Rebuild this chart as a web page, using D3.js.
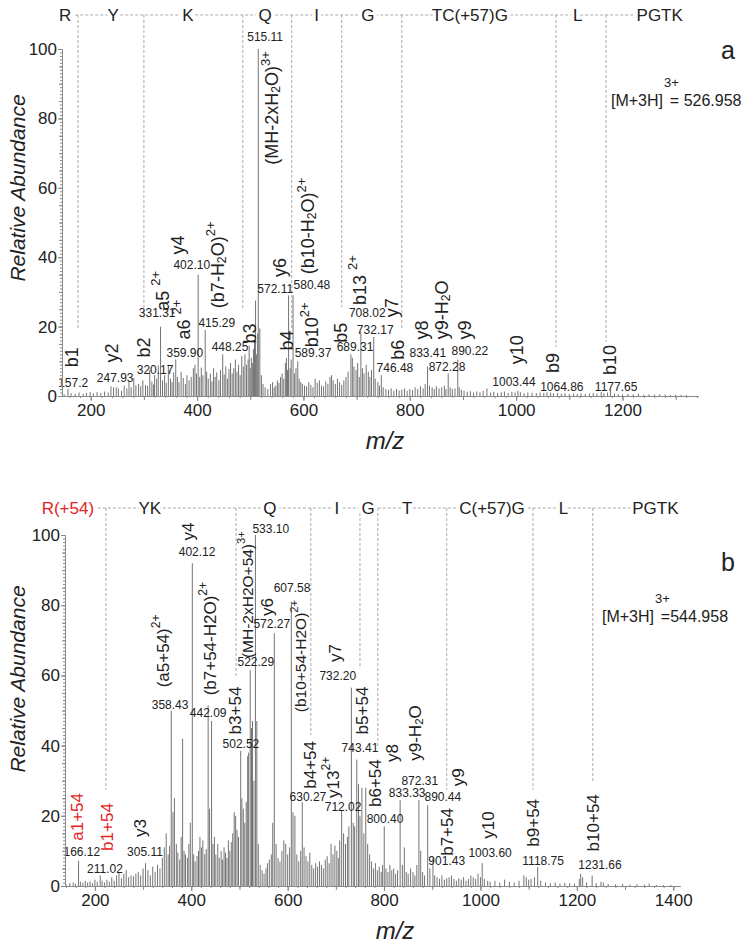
<!DOCTYPE html>
<html><head><meta charset="utf-8">
<script src="https://cdn.jsdelivr.net/npm/d3@7"></script>
<style>
body{margin:0;background:#fff}
svg text{font-family:"Liberation Sans",Arial,sans-serif}
</style>
</head><body>
<svg id="c" width="755" height="944"></svg>
<script>
// ---------------- DATA ----------------
const xTicksA = [200, 400, 600, 800, 1000, 1200];
const xTicksB = [200, 400, 600, 800, 1000, 1200, 1400];
const yTicks = [0, 20, 40, 60, 80, 100];

// sequence header: [text, m/z anchor]
const seqA = [["R",152],["Y",242],["K",383],["Q",528],["I",625],["G",721],["TC(+57)G",913],["L",1116],["PGTK",1270]];
const seqB = [["R(+54)",144],["YK",314],["Q",563],["I",702],["G",767],["T",848],["C(+57)G",1024],["L",1172],["PGTK",1363]];

// fragment (b-ion) dashed markers: [m/z, lower end in % abundance]
const fragA = [[176,19],[300,22],[486,24.8],[578,19.6],[672,25.6],[785,19],[1075,14.1],[1169,15.6]];
const fragB = [[223,27.4],[493,59.5],[648,43],[750,62],[787,39.6],[930,27.4],[1109,27.4],[1233,29.6]];

// labelled peaks: [label m/z, intensity %, label anchor m/z, label anchor %]
const labeledA = [
 ["157.2",2.0,167,3.7],["247.93",2.5,246,5.2],["320.17",6.0,321,7.5],["331.31",20,325,23.9],
 ["359.90",10.5,377,12.4],["402.10",35,390,37.8],["415.29",19,437,21],["448.25",12,462,14.1],
 ["515.11",100,528,103.5],["572.11",29,547,30.8],["580.48",29,616,32],["589.37",10,618,12.4],
 ["689.31",12,697,14.1],["708.02",18.5,720,23.9],["732.17",17,735,19],["746.48",6,772,8.1],
 ["833.41",8.5,834,12.4],["872.28",6.5,870,8.4],["890.22",10.5,913,13],["1003.44",1.5,996,4],
 ["1064.86",1.0,1086,2.6],["1177.65",1.5,1188,2.6]
];
const labeledB = [
 ["166.12",7.2,173,9.7],["211.02",3,221,4.8],["305.11",6.5,304,9.7],["358.43",50,356,51.6],
 ["402.12",92,412,95.2],["442.09",47,435,49.3],["502.52",38.5,503,40.5],["522.29",61.5,534,63.8],
 ["533.10",100,565,101.7],["572.27",72,567,74.6],["607.58",81,609,84.9],["630.27",24,642,25.4],
 ["712.02",21.5,715,22.5],["732.20",56.5,704,59.8],["743.41",36,750,39.3],["800.40",17,802,19.1],
 ["833.33",24.5,848,26.5],["872.31",24.5,874,30],["890.44",23,922,25.4],["901.43",8,930,7.1],
 ["1003.60",6.5,1020,9.4],["1118.75",5.4,1130,7.1],["1231.66",3,1248,6]
];

// unlabelled peaks: [m/z, intensity %]
const noiseA = [
 [150,0.5],[163,0.8],[171,0.6],[178,1.0],[186,0.7],[192,0.9],[199,1.2],[205,0.8],[212,1.1],[219,0.9],
 [226,1.3],[233,1.0],[238,2.8],[243,2.5],[252,2.2],[258,1.5],[263,3.0],[268,2.2],[272,4.0],[276,2.5],
 [281,5.2],[285,3.1],[290,3.5],[294,2.8],[298,4.5],[303,3.2],[307,2.9],[311,7.5],[315,4.2],[318,3.3],
 [324,5.0],[327,8.8],[335,4.5],[339,6.0],[342,3.8],[346,9.0],[350,5.0],[353,4.0],[356,6.8],[363,5.5],
 [366,4.0],[370,7.0],[374,5.2],[378,3.5],[381,6.0],[385,4.5],[389,5.5],[393,8.0],[396,9.0],[399,6.5],
 [405,5.5],[408,8.2],[411,6.0],[418,7.0],[421,5.0],[425,6.5],[428,4.2],[431,8.0],[434,5.5],[437,6.8],
 [441,4.5],[444,7.5],[451,6.2],[454,8.5],[457,5.0],[460,7.8],[463,9.5],[466,6.5],[469,8.0],[472,10.5],
 [475,7.0],[478,9.0],[481,6.0],[484,11.5],[487,8.5],[490,12.0],[493,9.0],[496,10.5],[498,14.5],[500,8.0],
 [502,11.0],[504,9.5],[506,13.5],[508,16.0],[510,27.5],[512,12.0],[514,18.0],[518,19.5],[521,6.0],[524,3.5],
 [528,2.5],[533,2.0],[538,3.5],[542,4.0],[545,2.5],[548,3.0],[551,4.5],[554,3.8],[557,5.5],[560,6.5],
 [563,5.0],[566,9.5],[568,11.0],[570,7.5],[575,8.0],[577,10.5],[583,6.5],[586,8.0],[592,5.0],[595,4.0],
 [598,3.5],[602,3.0],[606,2.8],[610,4.0],[614,3.2],[618,2.5],[622,5.0],[626,3.8],[630,4.5],[634,3.0],
 [638,2.8],[642,4.2],[646,3.5],[650,5.5],[653,6.0],[656,4.5],[660,3.5],[664,5.0],[668,4.0],[672,3.2],
 [676,4.5],[680,5.5],[684,7.0],[692,11.0],[695,8.5],[699,7.5],[702,9.5],[705,5.5],[711,8.0],[714,6.5],
 [718,9.0],[722,7.0],[725,5.5],[728,7.5],[735,5.0],[740,4.0],[743,3.0],[750,2.5],[755,2.0],[760,1.8],
 [765,2.2],[770,1.5],[775,2.0],[780,1.6],[785,1.8],[790,2.2],[795,1.5],[800,2.0],[805,1.7],[810,2.5],
 [815,2.0],[820,2.8],[825,2.2],[829,3.5],[837,3.0],[842,2.5],[846,2.0],[850,2.8],[855,2.2],[860,2.5],
 [865,3.0],[868,2.0],[876,2.5],[880,2.0],[885,2.2],[893,2.5],[897,1.8],[902,1.5],[908,1.2],[914,1.4],
 [920,1.0],[926,1.3],[932,1.1],[938,1.5],[945,2.2],[952,1.0],[958,1.2],[965,0.9],[972,1.1],[978,1.3],
 [985,0.9],[992,1.2],[998,1.0],[1008,1.1],[1015,0.8],[1022,1.0],[1030,0.9],[1038,0.8],[1045,1.0],[1052,0.9],
 [1058,1.1],[1070,0.8],[1078,0.9],[1085,0.7],[1092,0.8],[1100,0.6],[1108,0.7],[1115,0.6],[1122,0.8],[1130,0.6],
 [1138,0.7],[1145,0.9],[1152,0.7],[1160,1.2],[1165,0.8],[1172,1.0],[1185,0.7],[1192,0.6],[1200,0.5],[1210,0.6],
 [1220,0.5],[1230,0.6],[1240,0.4],[1250,0.5],[1260,0.4],[1270,0.5],[1280,0.4],[1290,0.3],[1300,0.4],[1310,0.3],[1320,0.3]
];
const noiseB = [
 [140,0.5],[148,0.8],[155,1.0],[160,0.7],[170,1.2],[175,0.9],[180,1.5],[185,1.0],[190,1.3],[195,0.8],
 [200,1.8],[205,1.2],[215,1.5],[220,1.0],[225,1.8],[230,1.2],[235,2.5],[240,1.5],[245,3.0],[250,4.0],
 [255,2.2],[260,3.5],[265,4.5],[270,2.5],[275,3.0],[280,2.8],[285,3.5],[290,4.0],[295,3.0],[300,5.0],
 [310,4.5],[315,3.0],[320,5.5],[325,4.0],[330,6.0],[335,5.0],[340,8.0],[344,11.0],[348,15.0],[352,9.0],
 [355,11.5],[362,21.0],[365,25.0],[369,12.0],[372,9.5],[376,7.5],[379,14.0],[382,42.0],[385,10.0],[388,9.0],
 [392,8.0],[395,12.0],[398,18.0],[405,9.0],[408,7.0],[412,8.5],[415,10.0],[418,14.0],[421,11.0],[424,13.0],
 [428,9.0],[431,10.5],[435,51.5],[438,22.0],[445,12.0],[448,14.0],[451,9.0],[455,12.0],[458,8.0],[462,10.0],
 [465,7.5],[468,11.0],[471,9.5],[474,8.0],[477,13.0],[480,10.0],[483,12.5],[486,15.0],[489,21.0],[492,20.0],
 [495,16.0],[498,14.0],[505,25.0],[508,22.0],[511,18.0],[514,24.0],[517,37.0],[519,38.0],[525,45.0],[527,47.0],
 [530,30.0],[536,47.0],[539,12.0],[543,6.0],[547,4.5],[551,3.5],[555,5.0],[558,6.5],[562,7.5],[566,9.0],
 [569,18.0],[576,12.0],[580,8.0],[584,7.0],[588,10.0],[592,13.0],[596,12.0],[600,9.0],[604,11.0],[611,21.0],
 [615,20.0],[619,9.0],[623,7.0],[627,10.0],[634,11.0],[638,8.5],[642,7.0],[646,9.5],[650,6.0],[654,5.0],
 [658,6.5],[662,5.5],[666,7.0],[670,6.0],[674,5.0],[678,7.5],[682,8.5],[686,6.5],[690,12.0],[694,9.0],
 [698,11.5],[702,10.0],[705,8.0],[708,13.0],[716,15.0],[720,12.0],[724,14.0],[727,17.0],[736,18.0],[739,17.0],
 [747,29.0],[750,20.0],[754,28.0],[758,15.0],[762,28.0],[766,12.0],[770,9.0],[774,7.0],[778,5.0],[782,6.5],
 [786,4.5],[790,5.5],[794,4.0],[797,6.0],[804,5.0],[808,4.0],[812,6.0],[816,4.5],[820,5.0],[824,3.5],
 [828,4.5],[838,6.0],[842,11.0],[846,4.0],[850,3.5],[855,5.0],[860,4.0],[864,3.0],[868,6.0],[876,10.0],
 [880,4.0],[884,3.0],[895,5.0],[905,3.0],[910,2.5],[915,2.0],[920,3.0],[925,1.8],[930,2.2],[935,2.5],
 [940,3.0],[945,2.0],[950,1.5],[955,2.2],[960,1.8],[965,2.5],[970,1.5],[975,2.0],[980,3.0],[985,2.5],
 [990,2.0],[995,3.5],[1000,2.5],[1008,2.0],[1015,1.5],[1020,1.2],[1030,1.5],[1040,1.0],[1050,1.8],[1060,1.2],
 [1070,1.0],[1080,1.5],[1090,3.0],[1095,2.5],[1100,1.8],[1105,2.0],[1112,2.5],[1125,1.5],[1135,1.0],[1145,0.8],
 [1155,1.0],[1165,0.7],[1175,0.9],[1185,0.8],[1195,0.7],[1205,2.0],[1208,3.5],[1212,2.5],[1220,1.0],[1240,0.8],
 [1250,1.2],[1255,1.0],[1265,0.6],[1280,0.5],[1295,0.6],[1310,0.4],[1325,0.5],[1340,0.4],[1350,0.7],[1365,0.3],
 [1380,0.3],[1395,0.3]
];

// ion annotations: [markup, anchor m/z, anchor %, colour?, size?]
const ionsA = [
 ["b1",165,11.2],["y2",240,12.4],["b2",300,14],["a5 ^{2+}",336,30.3],["a6 ^{2+}",375,22],
 ["y4",364,43.5],["(b7-H_{2}O)^{2+}",439,37.8],["b3",500,18],["(MH-2xH_{2}O)^{3+}",541,83],
 ["y6",556,37],["(b10-H_{2}O)^{2+}",609,49],["b4",569,16],["b10^{2+}",616,20.5],["b5",671,18.2],
 ["b13 ^{2+}",706,33.4],["y7",766,25.4],["b6",778,13.3],["y8",823,19],["y9-H_{2}O",861,24.8],
 ["y9",904,19],["y10",1002,13.3],["b9",1069,9.5],["b10",1176,10.4]
];
const ionsB = [
 ["a1+54",163,19.7,"red"],["b1+54",225,16.8,"red"],["y3",294,16.5],["(a5+54)^{2+}",341,67],
 ["y4",393,101],["(b7+54-H2O)^{2+}",439,70.5],["b3+54",491,50],["(MH-2xH2O+54)^{3+}",516,83,null,15.5],
 ["y6",557,79.5],["(b10+54-H2O)^{2+}",626,65.5,null,15.5],["y7",698,66.4],["b4+54",646,34.5],
 ["y13^{2+}",694,31],["b5+54",754,50],["b6+54",781,29.3],["y8",816,37.9],["y9-H_{2}O",864,43.6],
 ["y9",953,31],["b7+54",930,15.4],["y10",1016,17.4],["b9+54",1109,18],["b10+54",1233,18]
];

// ---------------- DRAW ----------------
const svg = d3.select("#c");
const RED = "#e3231f";

function rich(textSel, str, size){
  const parts = str.split(/(\^\{[^}]*\}|_\{[^}]*\})/).filter(s => s.length);
  let cur = 0;
  parts.forEach(p => {
    let target = 0, fs = size, t = p;
    if (p.startsWith("^{")) { target = -size*0.42; fs = size*0.72; t = p.slice(2,-1); }
    else if (p.startsWith("_{")) { target = size*0.22; fs = size*0.68; t = p.slice(2,-1); }
    textSel.append("tspan").attr("dy", target - cur).attr("font-size", fs).text(t);
    cur = target;
  });
}

function drawPanel(o){
  const x = d3.scaleLinear().domain(o.xDomain).range(o.xRange);
  const y = d3.scaleLinear().domain([0,100]).range(o.yRange);
  const g = svg.append("g");

  // fragment dashed verticals
  g.selectAll("line.frag").data(o.frag).join("line").attr("class","frag")
    .attr("x1", d => x(d[0])).attr("x2", d => x(d[0]))
    .attr("y1", o.seqY).attr("y2", d => y(d[1]))
    .attr("stroke","#a0a0a0").attr("stroke-width",0.9).attr("stroke-dasharray","3,2");

  // sequence horizontal dashed line
  g.append("line")
    .attr("x1", x(o.seq[0][1])).attr("x2", x(o.seq[o.seq.length-1][1]))
    .attr("y1", o.seqY).attr("y2", o.seqY)
    .attr("stroke","#a0a0a0").attr("stroke-width",0.9).attr("stroke-dasharray","3,2");

  g.selectAll("text.seq").data(o.seq).join("text").attr("class","seq")
    .attr("x", d => x(d[1])).attr("y", o.seqY)
    .attr("text-anchor","middle").attr("dominant-baseline","central")
    .attr("font-size",17).attr("fill",(d,i) => (o.redFirst && i===0) ? RED : "#222")
    .attr("stroke","#fff").attr("stroke-width",7).attr("paint-order","stroke")
    .text(d => d[0]);

  // peaks
  const peaks = o.noise.concat(o.labeled.map(d => [+d[0], d[1]]));
  g.selectAll("line.pk").data(peaks).join("line").attr("class","pk")
    .attr("x1", d => x(d[0])).attr("x2", d => x(d[0]))
    .attr("y1", y(0)).attr("y2", d => y(d[1]))
    .attr("stroke","#747474").attr("stroke-width",1);

  // peak m/z labels
  g.selectAll("text.ml").data(o.labeled).join("text").attr("class","ml")
    .attr("x", d => x(d[2])).attr("y", d => y(d[3]))
    .attr("text-anchor","middle").attr("dominant-baseline","central")
    .attr("font-size",12).attr("fill","#222").text(d => d[0]);

  // ion labels (rotated)
  o.ions.forEach(d => {
    const size = d[4] || o.ionSize;
    const t = g.append("text")
      .attr("transform", `translate(${x(d[1])},${y(d[2])}) rotate(-90)`)
      .attr("text-anchor","middle").attr("dominant-baseline","central")
      .attr("font-size", size).attr("fill", d[3] === "red" ? RED : "#222");
    rich(t, d[0], size);
  });

  // axes
  const axCol = "#8a8a8a";
  const xMinor = d3.range(Math.ceil(o.xDomain[0]/20)*20, o.xDomain[1], 20);
  const xMid = d3.range(Math.ceil(o.xDomain[0]/100)*100, o.xDomain[1], 100);
  const gx = g.append("g").attr("transform",`translate(0,${y(0)})`);
  gx.append("g").call(d3.axisBottom(x).tickValues(xMinor).tickSize(2).tickSizeOuter(0).tickFormat(""));
  gx.append("g").call(d3.axisBottom(x).tickValues(xMid).tickSize(4).tickSizeOuter(0).tickFormat(""));
  gx.append("g").call(d3.axisBottom(x).tickValues(o.xTicks).tickSize(5).tickSizeOuter(0).tickPadding(3).tickFormat(d3.format("d")));
  gx.selectAll("path,line").attr("stroke",axCol);
  gx.selectAll("text").attr("font-size",17).attr("fill","#222").attr("font-family",'"Liberation Sans",Arial,sans-serif');

  const gy = g.append("g").attr("transform",`translate(${o.xRange[0]},0)`);
  gy.append("g").call(d3.axisLeft(y).tickValues(d3.range(0,101,1)).tickSize(2).tickSizeOuter(0).tickFormat(""));
  gy.append("g").call(d3.axisLeft(y).tickValues(d3.range(0,101,5)).tickSize(3).tickSizeOuter(0).tickFormat(""));
  gy.append("g").call(d3.axisLeft(y).tickValues(yTicks).tickSize(4).tickSizeOuter(0).tickPadding(1));
  gy.selectAll("path,line").attr("stroke",axCol);
  gy.selectAll("text").attr("font-size",17).attr("fill","#222").attr("font-family",'"Liberation Sans",Arial,sans-serif');

  // axis titles
  g.append("text").attr("transform",`translate(17,${o.yTitleY}) rotate(-90)`)
    .attr("text-anchor","middle").attr("dominant-baseline","central")
    .attr("font-size",21).attr("font-style","italic").attr("fill","#222").text("Relative Abundance");
  g.append("text").attr("x", o.xTitle[0]).attr("y", o.xTitle[1])
    .attr("text-anchor","middle").attr("dominant-baseline","central")
    .attr("font-size",24).attr("font-style","italic").attr("fill","#222").text("m/z");

  // panel letter
  g.append("text").attr("x", o.letterPos[0]).attr("y", o.letterPos[1])
    .attr("text-anchor","middle").attr("dominant-baseline","central")
    .attr("font-size",25).attr("fill","#222").text(o.letter);

  // precursor
  const pt = g.append("text").attr("x", o.precPos[0]).attr("y", o.precPos[1])
    .attr("font-family",'"Open Sans","Liberation Sans",sans-serif').attr("font-size",16).attr("fill","#222");
  pt.append("tspan").text("[M+3H]");
  pt.append("tspan").attr("dy",-19).attr("dx",1).attr("font-size",13).text("3+");
  pt.append("tspan").attr("dy",19).attr("dx",-9).text(o.precText);
}

drawPanel({
  xDomain:[146,1342], xRange:[62,698], yRange:[396,49], seqY:15,
  seq:seqA, frag:fragA, labeled:labeledA, noise:noiseA, ions:ionsA, ionSize:18,
  xTicks:xTicksA, yTitleY:188, xTitle:[385,440], letter:"a", letterPos:[728,50],
  precPos:[611,106], precText:"= 526.958", redFirst:false
});
drawPanel({
  xDomain:[138,1414], xRange:[65,680], yRange:[886,535], seqY:508,
  seq:seqB, frag:fragB, labeled:labeledB, noise:noiseB, ions:ionsB, ionSize:17,
  xTicks:xTicksB, yTitleY:679, xTitle:[395,930], letter:"b", letterPos:[728,562],
  precPos:[602,622], precText:"=544.958", redFirst:true
});
</script>
</body></html>
